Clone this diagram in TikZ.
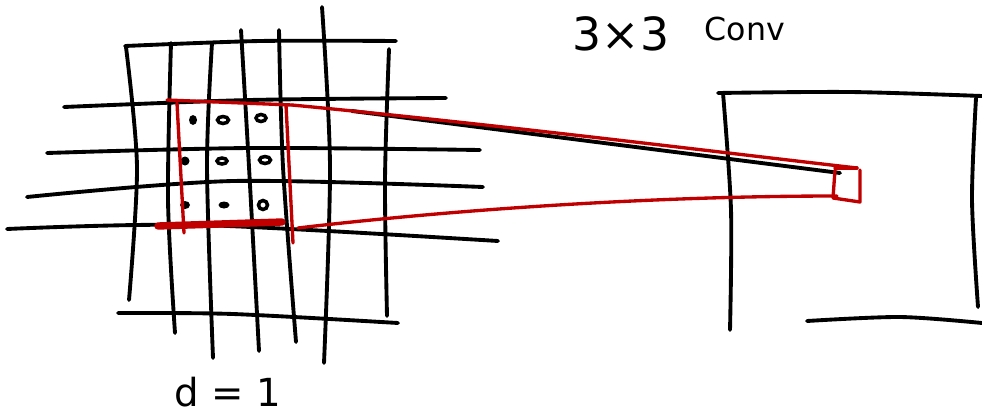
\documentclass[tikz,border=0pt]{standalone}
\usepackage{fontspec}
\setmainfont{DejaVu Sans}
\usetikzlibrary{positioning}
\definecolor{kernelred}{RGB}{192,0,0}

\begin{document}
\begin{tikzpicture}[
  x=0.02cm, y=-0.02cm,
  gridline/.style={line width=2.2pt, line cap=round, black},
  redline/.style={line width=1.9pt, line cap=round, line join=round, kernelred},
  redthick/.style={line width=4.2pt, line cap=round, kernelred},
  pixel/.style={line width=2pt, black},
  sketchtext/.style={inner sep=0pt, text=black},
]
  \useasboundingbox (0,0) rectangle (982,419);

  % Input feature map: hand drawn grid
  \draw[gridline] plot[smooth] coordinates {(125,46) (260,41) (396,41)};
  \draw[gridline] plot[smooth] coordinates {(64,107) (250,100) (446,98)};
  \draw[gridline] plot[smooth] coordinates {(47,153) (250,148) (480,150)};
  \draw[gridline] plot[smooth] coordinates {(27,197) (233,181) (483,187)};
  \draw[gridline] plot[smooth] coordinates {(7,229) (200,225) (498,241)};
  \draw[gridline] plot[smooth] coordinates {(118,313) (233,314) (398,323)};

  \draw[gridline] plot[smooth] coordinates {(126,47) (137,167) (129,300)};
  \draw[gridline] plot[smooth] coordinates {(171,43) (168,200) (175,333)};
  \draw[gridline] plot[smooth] coordinates {(212,43) (207,167) (213,358)};
  \draw[gridline] plot[smooth] coordinates {(241,30) (249,167) (259,351)};
  \draw[gridline] plot[smooth] coordinates {(279,30) (283,167) (296,342)};
  \draw[gridline] plot[smooth] coordinates {(322,7) (330,167) (324,363)};
  \draw[gridline] plot[smooth] coordinates {(389,49) (385,180) (387,316)};

  % Kernel samples
  \fill (193,120) ellipse (4 and 5);
  \draw[pixel] (223,120) ellipse (5.5 and 3.5);
  \draw[pixel] (261,118) ellipse (5 and 3.5);
  \fill (185,161) ellipse (4.5 and 4.5);
  \draw[pixel] (222,161) ellipse (5 and 3);
  \draw[pixel] (265,160) ellipse (5.5 and 3.5);
  \fill (185,205) ellipse (5 and 4);
  \fill (224,205) ellipse (5.5 and 3.5);
  \draw[pixel] (263,205) ellipse (4.5 and 4.5);

  % Output feature map
  \draw[gridline] plot[smooth] coordinates {(718,93) (850,92) (982,96)};
  \draw[gridline] plot[smooth] coordinates {(723,93) (731,210) (730,330)};
  \draw[gridline] plot[smooth] coordinates {(976,98) (972,200) (978,307)};
  \draw[gridline] plot[smooth] coordinates {(807,321) (900,317) (982,323)};
  \draw[gridline] (352,111) -- (840,173);

  % Receptive field and output pixel
  \coordinate (rfne) at (292,105);
  \coordinate (rfse) at (298,228);
  \coordinate (outne) at (857,168);
  \coordinate (outsw) at (837,196);
  \draw[redline] (167,100) -- (rfne);
  \draw[redline] (177,103) -- (184,233);
  \draw[redline] (286,105) -- (293,243);
  \draw[redthick] (158,226) -- (282,222);
  \draw[redline] (835,168) -- (outne);
  \draw[redline] (835,170) -- (833,198) -- (860,202) -- (860,170);
  \draw[redline] (rfne) .. controls (500,125) and (700,150) .. (outne);
  \draw[redline] (rfse) .. controls (450,210) and (650,196) .. (outsw);

  % Labels
  \node[sketchtext, font=\fontsize{26}{26}\selectfont] (ksize) at (621,34) {3×3};
  \node[sketchtext, font=\fontsize{18}{18}\selectfont, right=0.7cm of ksize.north east, anchor=north west] (kind) {Conv};
  \node[sketchtext, font=\fontsize{22}{22}\selectfont] (dil) at (228,392) {d = 1};
\end{tikzpicture}
\end{document}
